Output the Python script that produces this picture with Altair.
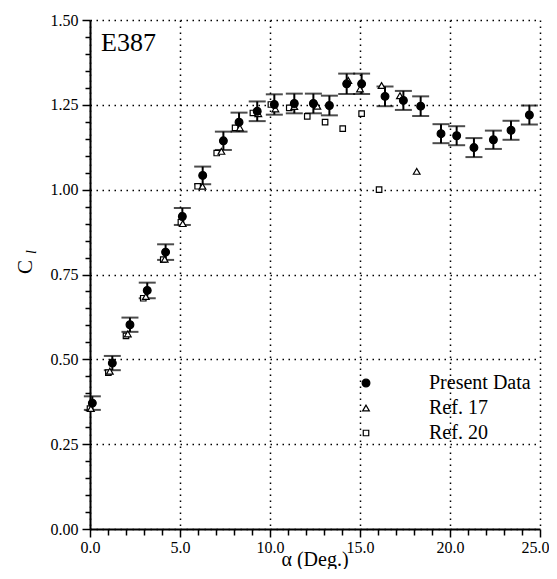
import altair as alt
import pandas as pd

# ---- data ----
alpha_present = [0.13, 1.24, 2.22, 3.18, 4.20, 5.13, 6.26, 7.41, 8.28, 9.29, 10.24, 11.35, 12.41,
                 13.30, 14.26, 15.09, 16.39, 17.41, 18.37, 19.50, 20.37, 21.33, 22.41, 23.39, 24.41]
cl_present = [0.371, 0.489, 0.602, 0.703, 0.816, 0.921, 1.042, 1.144, 1.199, 1.231, 1.251, 1.254, 1.254,
              1.248, 1.312, 1.312, 1.275, 1.263, 1.246, 1.165, 1.159, 1.124, 1.147, 1.175, 1.220]
err_present = [0.020, 0.021, 0.021, 0.023, 0.023, 0.025, 0.026, 0.027, 0.028, 0.029, 0.030, 0.029, 0.029,
               0.029, 0.030, 0.030, 0.029, 0.028, 0.029, 0.028, 0.028, 0.028, 0.027, 0.028, 0.028]

alpha_ref17 = [0.05, 1.10, 2.10, 3.10, 4.15, 5.15, 6.25, 7.30, 8.33, 9.35, 10.30, 11.35, 12.63,
               14.35, 15.00, 16.20, 17.22, 18.15]
cl_ref17 = [0.355, 0.465, 0.575, 0.685, 0.795, 0.900, 1.010, 1.113, 1.182, 1.224, 1.238, 1.245, 1.246,
            1.322, 1.297, 1.307, 1.277, 1.054]

alpha_ref20 = [0.00, 1.02, 2.00, 2.96, 4.07, 5.05, 5.98, 7.04, 8.06, 9.05, 10.05, 11.07, 12.07,
               13.06, 14.04, 15.09, 16.06]
cl_ref20 = [0.355, 0.461, 0.569, 0.680, 0.794, 0.904, 1.010, 1.108, 1.182, 1.226, 1.251, 1.241, 1.216,
            1.199, 1.180, 1.224, 1.000]

series_names = ["Present Data", "Ref. 17", "Ref. 20"]

x_tick_values = [0, 1, 2, 3, 4, 5, 6, 7, 8, 9, 10, 11, 12, 13, 14, 15, 16, 17, 18, 19, 20, 21, 22, 23, 24, 25]
y_tick_values = [0.0, 0.05, 0.1, 0.15, 0.2, 0.25, 0.3, 0.35, 0.4, 0.45, 0.5, 0.55, 0.6, 0.65, 0.7, 0.75,
                 0.8, 0.85, 0.9, 0.95, 1.0, 1.05, 1.1, 1.15, 1.2, 1.25, 1.3, 1.35, 1.4, 1.45, 1.5]

# ---- tables ----
df_present = pd.DataFrame({"alpha": alpha_present, "cl": cl_present, "err": err_present})
df_points = pd.concat([
    pd.DataFrame({"alpha": alpha_ref20, "cl": cl_ref20, "series": series_names[2]}),
    pd.DataFrame({"alpha": alpha_ref17, "cl": cl_ref17, "series": series_names[1]}),
    pd.DataFrame({"alpha": alpha_present, "cl": cl_present, "series": series_names[0]}),
], ignore_index=True)

FONT = "Liberation Serif"
x_major = "abs(datum.value / 5 - round(datum.value / 5)) < 0.0001"
x_last = "datum.value > 24.5"
y_major = "abs(datum.value * 4 - round(datum.value * 4)) < 0.0001"

axis_x = alt.Axis(
    values=x_tick_values, title=None,
    labelExpr=f"({x_major}) ? format(datum.value, '.1f') : ''",
    labelFont=FONT, labelFontSize=16, labelColor="black", labelPadding=2,
    labelAlign={"condition": {"test": x_last, "value": "right"}, "value": "center"},
    labelOffset={"condition": {"test": x_last, "value": 9}, "value": 0},
    tickSize={"condition": {"test": x_major, "value": 8}, "value": 6},
    tickColor="black", tickWidth=1.5,
    domainColor="black", domainWidth=2,
    grid=True, gridColor="black", gridWidth=1.5, gridDash=[1.5, 4.5],
    gridOpacity={"condition": {"test": x_major, "value": 1}, "value": 0},
    labelFlush=False, labelOverlap=False,
)
axis_y = alt.Axis(
    values=y_tick_values, title=None,
    labelExpr=f"({y_major}) ? format(datum.value, '.2f') : ''",
    labelFont=FONT, labelFontSize=16, labelColor="black", labelPadding=4,
    tickSize={"condition": {"test": y_major, "value": 8}, "value": 5},
    tickColor="black", tickWidth=1.5,
    domainColor="black", domainWidth=2,
    grid=True, gridColor="black", gridWidth=1.5, gridDash=[1.5, 4.5],
    gridOpacity={"condition": {"test": y_major, "value": 1}, "value": 0},
    labelFlush=False, labelOverlap=False,
)

x_scale = alt.Scale(domain=[0, 25], nice=False, zero=False)
y_scale = alt.Scale(domain=[0, 1.5], nice=False, zero=False)

x_enc = alt.X("alpha:Q", scale=x_scale, axis=axis_x)

base_err = alt.Chart(df_present).transform_calculate(
    lo="datum.cl - datum.err", hi="datum.cl + datum.err"
)
err_rule = base_err.mark_rule(color="black", strokeWidth=2).encode(
    x=x_enc,
    y=alt.Y("lo:Q", scale=y_scale, axis=axis_y),
    y2="hi:Q",
)
cap_lo = base_err.mark_tick(color="black", orient="horizontal", size=17, thickness=2).encode(
    x=x_enc, y=alt.Y("lo:Q", scale=y_scale, axis=axis_y)
)
cap_hi = base_err.mark_tick(color="black", orient="horizontal", size=17, thickness=2).encode(
    x=x_enc, y=alt.Y("hi:Q", scale=y_scale, axis=axis_y)
)

points = alt.Chart(df_points).mark_point(filled=True, strokeWidth=1.2, opacity=1).encode(
    x=x_enc,
    y=alt.Y("cl:Q", scale=y_scale, axis=axis_y),
    shape=alt.Shape("series:N", scale=alt.Scale(domain=series_names, range=["circle", "triangle-up", "square"])),
    fill=alt.Fill("series:N", scale=alt.Scale(domain=series_names, range=["black", "white", "white"])),
    stroke=alt.Stroke("series:N", scale=alt.Scale(domain=series_names, range=["black", "black", "black"])),
    size=alt.Size("series:N", scale=alt.Scale(domain=series_names, range=[60, 30, 34])),
    order=alt.Order("series:N", sort="descending"),
)

e387 = alt.Chart(pd.DataFrame({"t": ["E387"]})).mark_text(font=FONT, fontSize=26, align="left", baseline="alphabetic", color="black").encode(
    x=alt.value(11), y=alt.value(31), text="t:N"
)
ytitle_c = alt.Chart(pd.DataFrame({"t": ["C"]})).mark_text(font=FONT, fontSize=21, angle=270, align="center", baseline="middle", color="black").encode(
    x=alt.value(-64), y=alt.value(247), text="t:N"
)
ytitle_l = alt.Chart(pd.DataFrame({"t": ["l"]})).mark_text(font=FONT, fontSize=14, fontStyle="italic", angle=270, align="center", baseline="middle", color="black").encode(
    x=alt.value(-58), y=alt.value(232), text="t:N"
)
xtitle = alt.Chart(pd.DataFrame({"t": ["α (Deg.)"]})).mark_text(font=FONT, fontSize=20, align="center", baseline="middle", color="black").encode(
    x=alt.value(225), y=alt.value(540), text="t:N"
)

chart = alt.layer(err_rule, cap_lo, cap_hi, points, e387, ytitle_c, ytitle_l, xtitle).properties(
    width=450, height=509,
    autosize=alt.AutoSizeParams(type="none"),
    padding={"left": 82, "top": 12, "right": 9, "bottom": 40},
).configure_view(stroke=None).configure_legend(
    orient="none", legendX=266, legendY=353, title=None,
    labelFont=FONT, labelFontSize=20, labelColor="black", labelOffset=53,
    rowPadding=5, padding=0, symbolStrokeWidth=1.2,
)

chart.save("out.html", embed_options={"renderer": "svg", "actions": False})
